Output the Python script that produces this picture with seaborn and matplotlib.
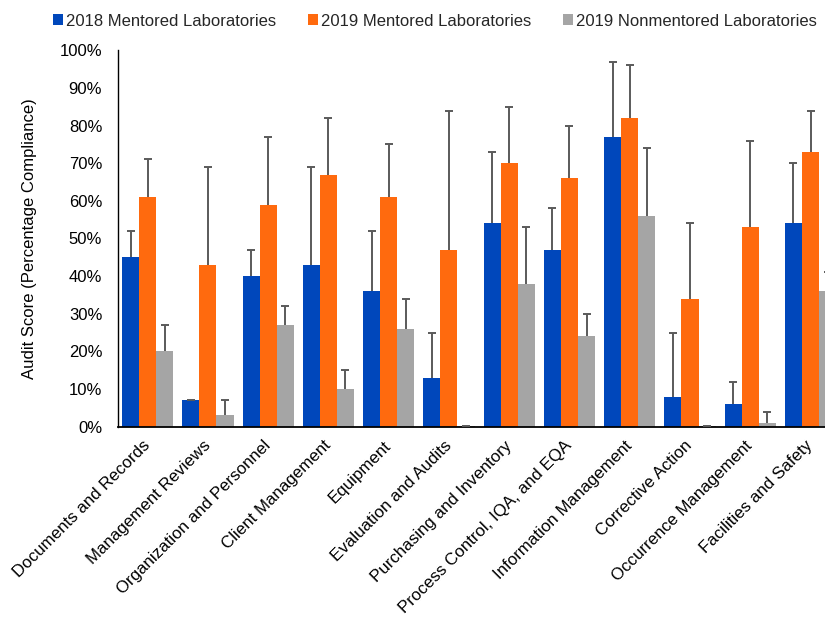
import matplotlib
matplotlib.use("Agg")
import matplotlib.pyplot as plt
import seaborn as sns
import pandas as pd
import numpy as np
from matplotlib.patches import Patch
from matplotlib.ticker import FuncFormatter

categories = [
    "Documents and Records", "Management Reviews", "Organization and Personnel",
    "Client Management", "Equipment", "Evaluation and Audits",
    "Purchasing and Inventory", "Process Control, IQA, and EQA",
    "Information Management", "Corrective Action", "Occurrence Management",
    "Facilities and Safety",
]
series = ["2018 Mentored Laboratories", "2019 Mentored Laboratories",
          "2019 Nonmentored Laboratories"]

mentored_2018 = [45, 7, 40, 43, 36, 13, 54, 47, 77, 8, 6, 54]
mentored_2018_upper = [52, 7, 47, 69, 52, 25, 73, 58, 97, 25, 12, 70]
mentored_2019 = [61, 43, 59, 67, 61, 47, 70, 66, 82, 34, 53, 73]
mentored_2019_upper = [71, 69, 77, 82, 75, 84, 85, 80, 96, 54, 76, 84]
nonmentored_2019 = [20, 3, 27, 10, 26, 0.3, 38, 24, 56, 0.3, 1, 36]
nonmentored_2019_upper = [27, 7, 32, 15, 34, 0.3, 53, 30, 74, 0.3, 4, 41]

y_ticks = [0, 10, 20, 30, 40, 50, 60, 70, 80, 90, 100]

colors = ["#0047BB", "#FF6A0E", "#A5A5A5"]

values = [mentored_2018, mentored_2019, nonmentored_2019]
uppers = [mentored_2018_upper, mentored_2019_upper, nonmentored_2019_upper]

rows = []
for s, vals in zip(series, values):
    for c, v in zip(categories, vals):
        rows.append({"Category": c, "Series": s, "Value": v})
df = pd.DataFrame(rows)

sns.set_theme(style="white")
plt.rcParams["font.family"] = ["Liberation Sans", "DejaVu Sans"]

fig = plt.figure(figsize=(8.25, 6.19), dpi=100)
ax = fig.add_axes([117.5 / 825, 1 - 426.7 / 619, 1 - 117.5 / 825, (426.7 - 50.3) / 619])

sns.barplot(data=df, x="Category", y="Value", hue="Series", order=categories,
            hue_order=series, palette=colors, saturation=1, width=0.85, gap=0,
            errorbar=None, linewidth=0, legend=False, ax=ax, zorder=2)

for cont, vals, ups in zip(ax.containers, values, uppers):
    xs = [b.get_x() + b.get_width() / 2 for b in cont]
    ax.vlines(xs, vals, ups, colors="#5A5A5A", linewidth=1.4, zorder=3)
    ax.scatter(xs, ups, marker="_", s=30, color="#5A5A5A", linewidths=1.4, zorder=3)

ax.set_xlim(-0.5, 11.24)
ax.set_ylim(0, 100)
ax.set_yticks(y_ticks)
ax.yaxis.set_major_formatter(FuncFormatter(lambda v, p: f"{v:.0f}%"))
ax.tick_params(axis="y", length=0, pad=11, labelsize=12, labelcolor="#000000")
ax.tick_params(axis="x", length=0, pad=12, labelsize=12.2, labelcolor="#000000")
for lab in ax.get_xticklabels():
    lab.set_rotation(45)
    lab.set_ha("right")
    lab.set_va("center")
    lab.set_rotation_mode("anchor")

ax.set_xlabel("")
ax.set_ylabel("Audit Score (Percentage Compliance)", fontsize=12, color="#000000", labelpad=16)

for side in ["top", "right"]:
    ax.spines[side].set_visible(False)
ax.spines["left"].set_color("#000000")
ax.spines["left"].set_linewidth(1.0)
ax.spines["bottom"].set_color("#000000")
ax.spines["bottom"].set_linewidth(1.3)
ax.grid(False)

handles = [Patch(facecolor=c, edgecolor="none") for c in colors]
fig.legend(handles, series, loc="center left", bbox_to_anchor=(53 / 825, 1 - 21 / 619),
           ncol=3, frameon=False, fontsize=12, handlelength=0.6, handleheight=0.6,
           handletextpad=0.18, columnspacing=1.9, borderaxespad=0, borderpad=0)

fig.savefig("out.png", dpi=100)
